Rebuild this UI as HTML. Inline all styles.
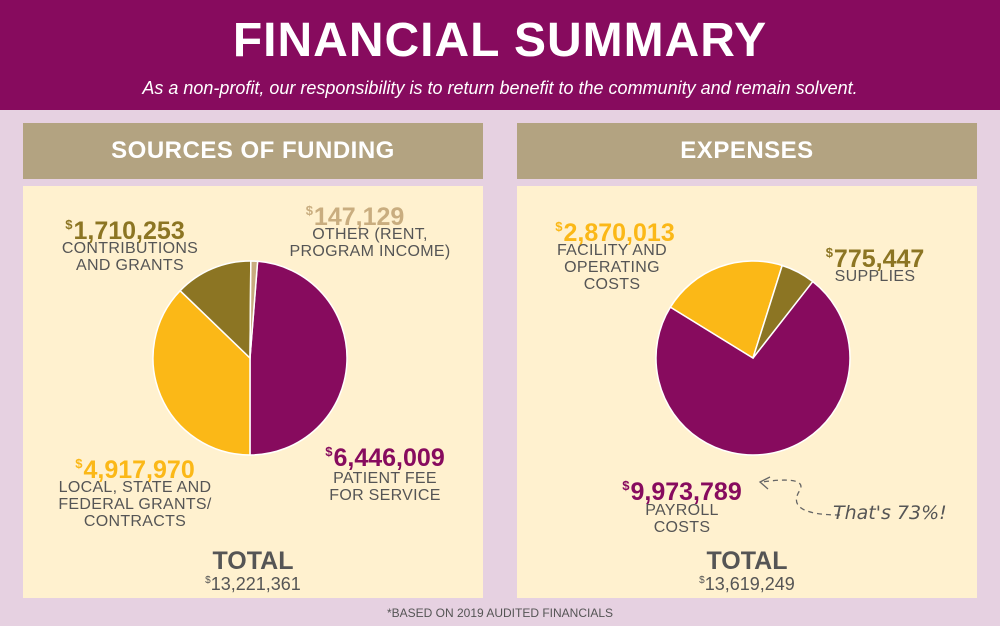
<!DOCTYPE html>
<html><head><meta charset="utf-8"><style>
body{margin:0;width:1000px;height:626px;overflow:hidden;background:#e6d1e1;font-family:"Liberation Sans",sans-serif;position:relative}
.a{position:absolute}
.hdr{position:absolute;background:#b3a381;color:#fff;font-weight:bold;font-size:24px;text-align:center;line-height:56px;letter-spacing:0.5px}
.panel{position:absolute;background:#fff1cf}
.t{position:absolute;text-align:center;white-space:nowrap}
.num{font-weight:bold;font-size:25px;line-height:26px}
.num sup{font-size:13px;vertical-align:10px;margin-right:1px}
.lbl{color:#555;font-size:16px;line-height:17px;letter-spacing:0.3px}
.tot{color:#555;font-weight:bold;font-size:25px;line-height:26px}
.totv{color:#555;font-size:18px}
.totv sup{font-size:10px}
</style></head><body>
<div class="a" style="left:0;top:0;width:1000px;height:110px;background:#870b5e"></div>
<div class="t" style="left:0;width:1000px;top:14px;color:#fff;font-weight:bold;font-size:48px;line-height:54px;letter-spacing:1px">FINANCIAL SUMMARY</div>
<div class="t" style="left:0;width:1000px;top:77px;color:#fff;font-style:italic;font-size:18px;line-height:22px">As a non-profit, our responsibility is to return benefit to the community and remain solvent.</div>

<div class="hdr" style="left:23px;top:123px;width:460px;height:56px">SOURCES OF FUNDING</div>
<div class="hdr" style="left:517px;top:123px;width:460px;height:56px">EXPENSES</div>
<div class="panel" style="left:23px;top:186px;width:460px;height:412px"></div>
<div class="panel" style="left:517px;top:186px;width:460px;height:412px"></div>

<svg class="a" style="left:0;top:0" width="1000" height="626">
<g id="pieL"></g><g id="pieR"></g>
<path d="M840 515 C 800 515, 790 505, 800 490 C 805 480, 790 478, 762 482" fill="none" stroke="#666" stroke-width="1.3" stroke-dasharray="5,4"/>
<path d="M770 477 L760 482 L768 489" fill="none" stroke="#666" stroke-width="1.3"/>
</svg>

<div class="t num" style="left:40px;width:170px;top:212px;color:#8c7523"><sup>$</sup>1,710,253</div>
<div class="t lbl" style="left:30px;width:200px;top:240px">CONTRIBUTIONS<br>AND GRANTS</div>
<div class="t num" style="left:285px;width:140px;top:198px;color:#c9ad7f"><sup>$</sup>147,129</div>
<div class="t lbl" style="left:250px;width:240px;top:226px">OTHER (RENT,<br>PROGRAM INCOME)</div>
<div class="t num" style="left:50px;width:170px;top:451px;color:#fbb817"><sup>$</sup>4,917,970</div>
<div class="t lbl" style="left:35px;width:200px;top:479px">LOCAL, STATE AND<br>FEDERAL GRANTS/<br>CONTRACTS</div>
<div class="t num" style="left:300px;width:170px;top:439px;color:#870b5e"><sup>$</sup>6,446,009</div>
<div class="t lbl" style="left:295px;width:180px;top:470px">PATIENT FEE<br>FOR SERVICE</div>
<div class="t tot" style="left:153px;width:200px;top:548px">TOTAL</div>
<div class="t totv" style="left:153px;width:200px;top:574px"><sup>$</sup>13,221,361</div>

<div class="t num" style="left:530px;width:170px;top:214px;color:#fbb817"><sup>$</sup>2,870,013</div>
<div class="t lbl" style="left:512px;width:200px;top:242px">FACILITY AND<br>OPERATING<br>COSTS</div>
<div class="t num" style="left:805px;width:140px;top:240px;color:#8c7523"><sup>$</sup>775,447</div>
<div class="t lbl" style="left:800px;width:150px;top:268px">SUPPLIES</div>
<div class="t num" style="left:597px;width:170px;top:473px;color:#870b5e"><sup>$</sup>9,973,789</div>
<div class="t lbl" style="left:597px;width:170px;top:502px">PAYROLL<br>COSTS</div>
<div class="t" style="left:833px;top:502px;font-style:italic;font-size:19px;color:#555;font-family:'DejaVu Sans',sans-serif">That's 73%!</div>
<div class="t tot" style="left:647px;width:200px;top:548px">TOTAL</div>
<div class="t totv" style="left:647px;width:200px;top:574px"><sup>$</sup>13,619,249</div>

<div class="t" style="left:0;width:1000px;top:606px;font-size:12px;color:#555">*BASED ON 2019 AUDITED FINANCIALS</div>

<script>
const fundingCategories=["Patient Fee","Local/State/Federal","Contributions","Other"];
const fundingValues=[6446009,4917970,1710253,147129];
const fundingColors=["#870b5e","#fbb817","#8c7523","#c9ad7f"];
const expenseCategories=["Payroll","Facility","Supplies"];
const expenseValues=[9973789,2870013,775447];
const expenseColors=["#870b5e","#fbb817","#8c7523"];
function drawPie(gid,vals,cols,cats,cx,cy,r,start){
  const g=document.getElementById(gid);
  const tot=vals.reduce((a,b)=>a+b,0);
  let ang=start;
  vals.forEach((v,i)=>{
    const sw=v/tot*360;
    const a0=(ang-90)*Math.PI/180,a1=(ang+sw-90)*Math.PI/180;
    const x0=cx+r*Math.cos(a0),y0=cy+r*Math.sin(a0),x1=cx+r*Math.cos(a1),y1=cy+r*Math.sin(a1);
    const p=document.createElementNS("http://www.w3.org/2000/svg","path");
    p.setAttribute("d",`M${cx} ${cy} L${x0} ${y0} A${r} ${r} 0 ${sw>180?1:0} 1 ${x1} ${y1} Z`);
    p.setAttribute("fill",cols[i]);p.setAttribute("stroke","#fff");p.setAttribute("stroke-width","1.5");
    
    
    g.appendChild(p);ang+=sw;
  });
}
drawPie("pieL",fundingValues,fundingColors,fundingCategories,250,358,97,4.5);
drawPie("pieR",expenseValues,expenseColors,expenseCategories,753,358,97,38);
</script>
</body></html>
